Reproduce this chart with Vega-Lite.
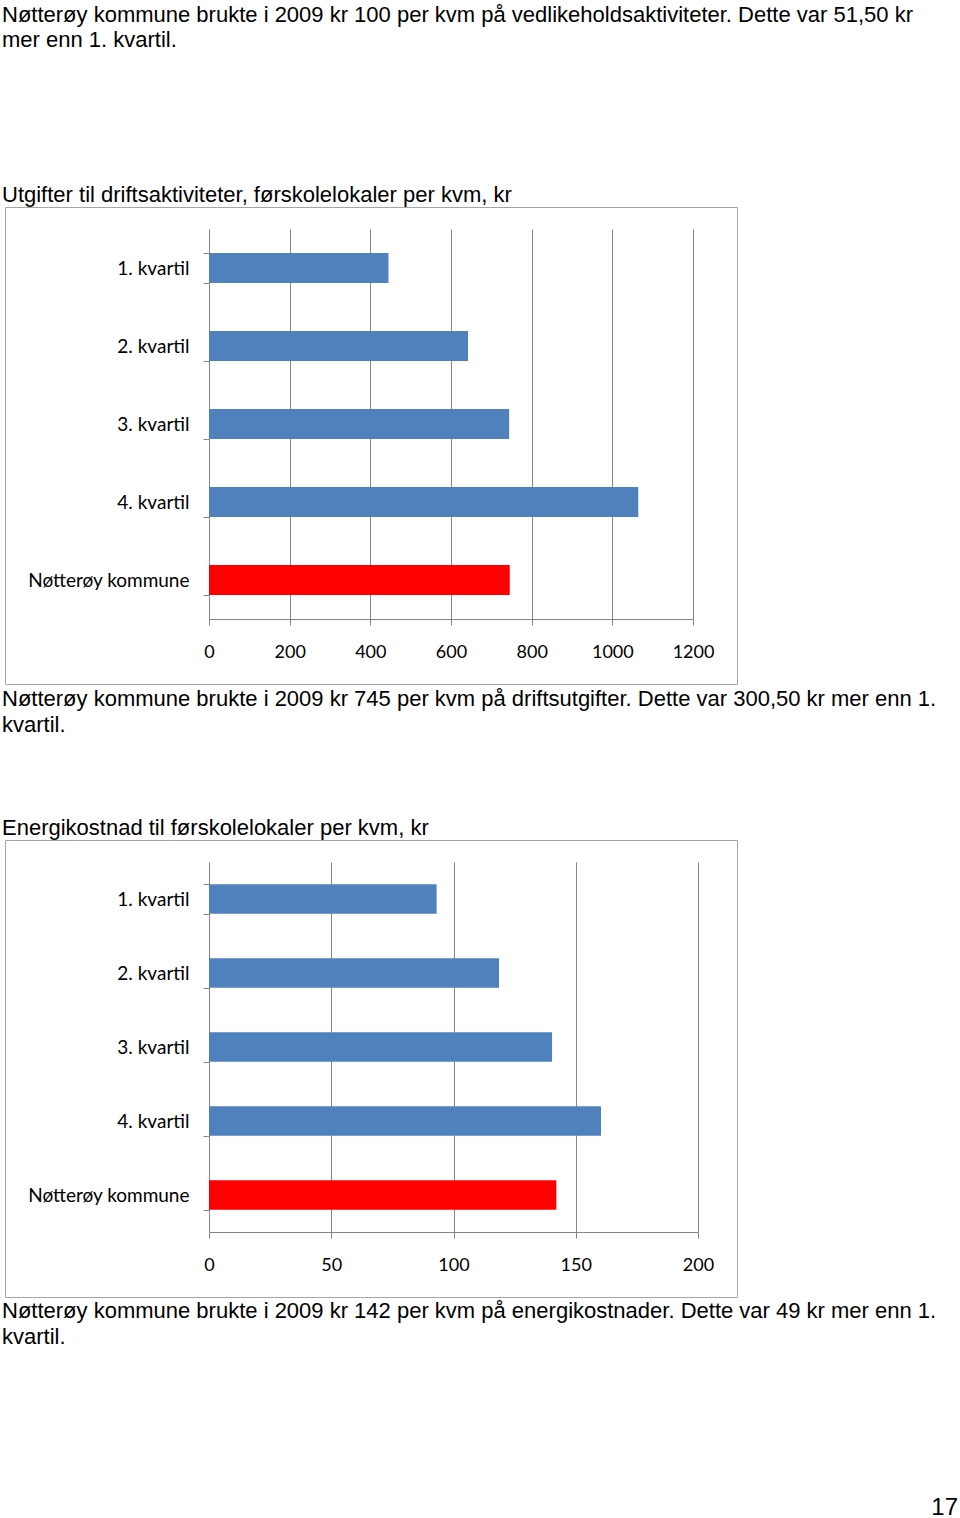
{
  "$schema": "https://vega.github.io/schema/vega-lite/v6.json",
  "padding": {"left": 1, "top": 3, "right": 0, "bottom": 0},
  "background": "white",
  "spacing": 2,
  "config": {
    "title": {"font": "Liberation Sans", "fontSize": 22, "fontWeight": "normal", "color": "#000000", "anchor": "start", "lineHeight": 25.75, "offset": -9, "dx": -3,
      "subtitleFont": "Liberation Sans", "subtitleFontSize": 22, "subtitleFontWeight": "normal", "subtitleColor": "#000000", "subtitleLineHeight": 25.75},
    "axis": {"labelFont": "Lato", "labelColor": "#000000", "domainColor": "#868686", "tickColor": "#868686", "gridColor": "#868686", "tickSize": 6, "title": null}
  },
  "title": {"text": "17", "orient": "bottom", "anchor": "end", "fontSize": 24, "offset": 2, "dx": 0},
  "vconcat": [
    {
      "width": 732,
      "height": 477,
      "view": {"stroke": "#A6A6A6", "strokeWidth": 1},
      "title": {"text": ["Nøtterøy kommune brukte i 2009 kr 100 per kvm på vedlikeholdsaktiviteter. Dette var 51,50 kr", "mer enn 1. kvartil."], "subtitle": "Utgifter til driftsaktiviteter, førskolelokaler per kvm, kr", "subtitlePadding": 132.75},
      "data": {"values": [
        {"kategori": "1. kvartil", "gruppe": "kvartil", "verdi": 444.5},
        {"kategori": "2. kvartil", "gruppe": "kvartil", "verdi": 642},
        {"kategori": "3. kvartil", "gruppe": "kvartil", "verdi": 744},
        {"kategori": "4. kvartil", "gruppe": "kvartil", "verdi": 1064},
        {"kategori": "Nøtterøy kommune", "gruppe": "kommune", "verdi": 745}
      ]},
      "encoding": {
        "y": {"field": "kategori", "type": "nominal", "sort": null,
          "scale": {"range": [22, 412], "paddingInner": 0.615, "paddingOuter": 0.3075},
          "axis": {"orient": "left", "offset": -204, "tickBand": "extent", "labelFontSize": 19, "labelPadding": 14, "grid": false}},
        "color": {"field": "gruppe", "type": "nominal", "scale": {"domain": ["kvartil", "kommune"], "range": ["#4F81BD", "#FF0000"]}, "legend": null}
      },
      "layer": [
        {"mark": "bar", "encoding": {"x": {"field": "verdi", "type": "quantitative",
          "scale": {"domain": [0, 1200], "range": [204, 688], "nice": false},
          "axis": {"orient": "bottom", "offset": -65, "values": [0, 200, 400, 600, 800, 1000, 1200], "format": "d", "grid": false, "labelFontSize": 18, "labelPadding": 18, "labelFlush": false}}}},
        {"mark": "bar", "encoding": {"x": {"field": "verdi", "type": "quantitative",
          "axis": {"orient": "top", "values": [0, 200, 400, 600, 800, 1000, 1200], "grid": true, "domain": false, "ticks": false, "labels": false}}}}
      ]
    },
    {
      "width": 732,
      "height": 457,
      "view": {"stroke": "#A6A6A6", "strokeWidth": 1},
      "title": {"text": ["Nøtterøy kommune brukte i 2009 kr 745 per kvm på driftsutgifter. Dette var 300,50 kr mer enn 1.", "kvartil."], "subtitle": "Energikostnad til førskolelokaler per kvm, kr", "subtitlePadding": 81.25},
      "data": {"values": [
        {"kategori": "1. kvartil", "gruppe": "kvartil", "verdi": 93},
        {"kategori": "2. kvartil", "gruppe": "kvartil", "verdi": 118.6},
        {"kategori": "3. kvartil", "gruppe": "kvartil", "verdi": 140.3},
        {"kategori": "4. kvartil", "gruppe": "kvartil", "verdi": 160.3},
        {"kategori": "Nøtterøy kommune", "gruppe": "kommune", "verdi": 142}
      ]},
      "encoding": {
        "y": {"field": "kategori", "type": "nominal", "sort": null,
          "scale": {"range": [22, 392], "paddingInner": 0.608, "paddingOuter": 0.304},
          "axis": {"orient": "left", "offset": -204, "tickBand": "extent", "labelFontSize": 19, "labelPadding": 14, "grid": false}},
        "color": {"field": "gruppe", "type": "nominal", "scale": {"domain": ["kvartil", "kommune"], "range": ["#4F81BD", "#FF0000"]}, "legend": null}
      },
      "layer": [
        {"mark": "bar", "encoding": {"x": {"field": "verdi", "type": "quantitative",
          "scale": {"domain": [0, 200], "range": [204, 693], "nice": false},
          "axis": {"orient": "bottom", "offset": -65, "values": [0, 50, 100, 150, 200], "format": "d", "grid": false, "labelFontSize": 18, "labelPadding": 18, "labelFlush": false}}}},
        {"mark": "bar", "encoding": {"x": {"field": "verdi", "type": "quantitative",
          "axis": {"orient": "top", "values": [0, 50, 100, 150, 200], "grid": true, "domain": false, "ticks": false, "labels": false}}}}
      ]
    },
    {
      "width": 953,
      "height": 154,
      "view": {"stroke": null},
      "title": {"text": ["Nøtterøy kommune brukte i 2009 kr 142 per kvm på energikostnader. Dette var 49 kr mer enn 1.", "kvartil."]},
      "data": {"values": []},
      "mark": "text",
      "encoding": {}
    }
  ]
}
